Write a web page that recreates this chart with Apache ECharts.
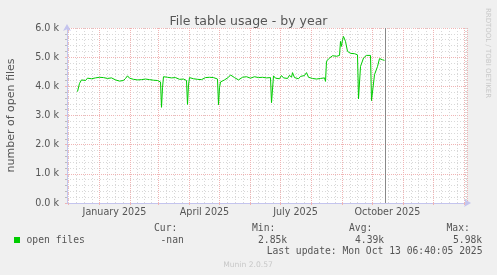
<!DOCTYPE html>
<html>
<head>
<meta charset="utf-8">
<script src="https://cdn.jsdelivr.net/npm/echarts@6/dist/echarts.min.js"></script>
<style>html,body{margin:0;padding:0;background:#f0f0f0;}#c{width:497px;height:275px;}</style>
</head>
<body>
<div id="c"></div>
<script>
// ---- data (values in thousands of open files) ----
const dates = [
'2024-12-10','2024-12-12','2024-12-14','2024-12-16','2024-12-18','2024-12-20','2024-12-22','2024-12-24','2024-12-26','2024-12-28','2024-12-30',
'2025-01-01','2025-01-03','2025-01-05','2025-01-07','2025-01-09','2025-01-11','2025-01-13','2025-01-15','2025-01-17','2025-01-19','2025-01-21','2025-01-23','2025-01-25','2025-01-27','2025-01-29','2025-01-31',
'2025-02-02','2025-02-04','2025-02-06','2025-02-08','2025-02-10','2025-02-12','2025-02-14','2025-02-16','2025-02-18','2025-02-20','2025-02-22','2025-02-24','2025-02-26','2025-02-28',
'2025-03-02','2025-03-03','2025-03-04','2025-03-05','2025-03-06','2025-03-08','2025-03-10','2025-03-12','2025-03-14','2025-03-16','2025-03-18','2025-03-20','2025-03-22','2025-03-24','2025-03-26','2025-03-28','2025-03-29','2025-03-30','2025-03-31',
'2025-04-01','2025-04-03','2025-04-05','2025-04-07','2025-04-09','2025-04-11','2025-04-13','2025-04-15','2025-04-17','2025-04-19','2025-04-21','2025-04-23','2025-04-25','2025-04-27','2025-04-29','2025-04-30',
'2025-05-01','2025-05-02','2025-05-04','2025-05-06','2025-05-08','2025-05-10','2025-05-12','2025-05-14','2025-05-16','2025-05-18','2025-05-20','2025-05-22','2025-05-24','2025-05-26','2025-05-28','2025-05-30',
'2025-06-01','2025-06-03','2025-06-05','2025-06-07','2025-06-09','2025-06-11','2025-06-13','2025-06-15','2025-06-17','2025-06-19','2025-06-21','2025-06-22','2025-06-24','2025-06-26','2025-06-28','2025-06-30',
'2025-07-02','2025-07-04','2025-07-06','2025-07-08','2025-07-10','2025-07-12','2025-07-13','2025-07-15','2025-07-17','2025-07-19','2025-07-21','2025-07-23','2025-07-25','2025-07-27','2025-07-29','2025-07-31',
'2025-08-02','2025-08-04','2025-08-06','2025-08-08','2025-08-10','2025-08-12','2025-08-14','2025-08-15','2025-08-16','2025-08-18','2025-08-20','2025-08-22','2025-08-24','2025-08-26','2025-08-28','2025-08-29','2025-08-30','2025-08-31',
'2025-09-01','2025-09-02','2025-09-03','2025-09-04','2025-09-06','2025-09-07','2025-09-09','2025-09-11','2025-09-13','2025-09-15','2025-09-16','2025-09-17','2025-09-19','2025-09-22','2025-09-25','2025-09-27','2025-09-29','2025-09-30',
'2025-10-03','2025-10-06','2025-10-08','2025-10-11','2025-10-13'
];
const openFiles = [
3.82,4.10,4.22,4.27,4.20,4.28,4.23,4.26,4.21,4.29,4.24,
4.31,4.28,4.30,4.25,4.27,4.24,4.29,4.26,4.22,4.25,4.18,4.12,4.20,4.27,4.36,4.28,
4.30,4.24,4.27,4.22,4.26,4.23,4.28,4.25,4.20,4.23,4.18,4.21,4.17,4.20,
4.19,4.15,3.28,3.95,4.33,4.32,4.31,4.27,4.29,4.25,4.30,4.26,4.24,4.28,4.25,4.22,4.20,3.38,4.05,
4.30,4.33,4.26,4.30,4.24,4.28,4.23,4.27,4.30,4.27,4.31,4.28,4.30,4.27,4.25,3.37,
3.95,4.15,4.20,4.22,4.26,4.31,4.39,4.33,4.30,4.27,4.22,4.24,4.31,4.26,4.33,4.38,
4.28,4.25,4.33,4.27,4.30,4.36,4.31,4.35,4.29,4.33,4.30,3.44,4.36,4.28,4.34,4.26,
4.37,4.29,4.35,4.27,4.38,4.31,4.47,4.30,4.36,4.26,4.34,4.28,4.37,4.47,4.31,4.35,
4.27,4.33,4.25,4.31,4.27,4.24,4.29,4.17,4.86,4.94,4.99,5.05,5.03,5.03,5.00,5.06,5.54,5.37,
5.60,5.71,5.66,5.54,5.20,5.14,5.13,5.13,5.12,5.10,5.08,3.57,4.68,4.97,5.06,5.07,5.06,3.51,
4.40,4.68,4.95,4.91,4.89
];
const xStart = '2024-11-29 12:00';
const xEnd = '2026-01-03 12:00';
const nowMark = '2025-10-13 06:40';
const labelMonths = [0, 3, 6, 9];           // Jan, Apr, Jul, Oct
const labelTexts = ['January 2025', 'April 2025', 'July 2025', 'October 2025'];
const yMin = 0, yMax = 6, yStep = 1;
const legendName = 'open files';
const stats = { cur: '-nan', min: '2.85k', avg: '4.39k', max: '5.98k' };
const lastUpdate = 'Last update: Mon Oct 13 06:40:05 2025';

const chart = echarts.init(document.getElementById('c'), null, { renderer: 'canvas' });
const FONT = 'DejaVu Sans';
const TXT = '#555';
const MAJOR = '#f0b4b4';
const MINOR = '#d8d8d8';

const option = {
  animation: false,
  backgroundColor: '#f0f0f0',
  title: {
    text: 'File table usage - by year',
    left: 'center',
    top: 10,
    textStyle: { fontFamily: FONT, fontSize: 12.5, fontWeight: 'normal', color: TXT }
  },
  grid: { left: 67, right: 30, top: 28, bottom: 72, show: true, backgroundColor: '#ffffff', borderWidth: 0 },
  xAxis: {
    type: 'time',
    min: xStart, max: xEnd,
    minInterval: 27 * 86400000, maxInterval: 32 * 86400000,
    axisLine: { show: true, lineStyle: { color: '#c4c4ee', width: 1 }, symbol: ['none', 'arrow'], symbolSize: [6, 7], symbolOffset: [0, 4] },
    axisTick: { show: true, length: 2, lineStyle: { color: MAJOR } },
    minorTick: { show: false, splitNumber: 4 },
    splitLine: { show: true, lineStyle: { color: MAJOR, type: [1, 1], width: 1 } },
    minorSplitLine: { show: true, lineStyle: { color: MINOR, type: [1, 2], width: 1 } },
    axisLabel: {
      interval: 0, showMinLabel: false, showMaxLabel: false, hideOverlap: false,
      margin: 4, padding: [0, 0, 0, 30], align: 'center',
      fontFamily: FONT, fontSize: 9.6, color: TXT,
      formatter: function (v) {
        const d = new Date(v);
        if (d.getDate() !== 1) return '';
        const i = labelMonths.indexOf(d.getMonth());
        if (i < 0 || d.getFullYear() !== 2025) return '';
        return labelTexts[i];
      }
    }
  },
  yAxis: {
    type: 'value', min: yMin, max: yMax, interval: yStep,
    axisLine: { show: true, lineStyle: { color: '#c4c4ee', width: 1 }, symbol: ['none', 'arrow'], symbolSize: [6, 7], symbolOffset: [0, 4] },
    axisTick: { show: true, length: 2, lineStyle: { color: MAJOR } },
    minorTick: { show: true, splitNumber: 5, length: 2, lineStyle: { color: '#bbbbbb' } },
    splitLine: { show: true, lineStyle: { color: MAJOR, type: [1, 1], width: 1 } },
    minorSplitLine: { show: true, lineStyle: { color: MINOR, type: [1, 2], width: 1 } },
    axisLabel: {
      margin: 8, fontFamily: FONT, fontSize: 9.6, color: TXT,
      formatter: v => v.toFixed(1) + ' k'
    }
  },
  series: [{
    name: legendName,
    type: 'line',
    data: dates.map((d, i) => [d, openFiles[i]]),
    showSymbol: false,
    lineStyle: { color: '#00cc00', width: 1 },
    itemStyle: { color: '#00cc00' },
    markLine: {
      silent: true, symbol: 'none', label: { show: false },
      lineStyle: { color: '#888888', width: 1, type: 'solid' },
      data: [{ xAxis: nowMark }]
    }
  }],
  graphic: [
    { type: 'text', x: 11, y: 115.5, rotation: Math.PI / 2,
      style: { text: 'number of open files', fill: TXT, font: '11px "DejaVu Sans"', align: 'center', verticalAlign: 'middle' } },
    { type: 'text', x: 488, y: 53, rotation: -Math.PI / 2,
      style: { text: 'RRDTOOL / TOBI OETIKER', fill: '#c8c8c8', font: '7px "DejaVu Sans"', align: 'center', verticalAlign: 'middle' } },
    { type: 'rect', shape: { x: 14, y: 237, width: 6, height: 6 }, style: { fill: '#00cc00' } },
    { type: 'text', x: 26.5, y: 240, style: { text: legendName, fill: TXT, font: '9.7px "DejaVu Sans Mono"', verticalAlign: 'middle' } },
    { type: 'text', x: 154, y: 228, style: { text: 'Cur:', fill: TXT, font: '9.7px "DejaVu Sans Mono"', verticalAlign: 'middle' } },
    { type: 'text', x: 160.5, y: 240, style: { text: stats.cur, fill: TXT, font: '9.7px "DejaVu Sans Mono"', verticalAlign: 'middle' } },
    { type: 'text', x: 252, y: 228, style: { text: 'Min:', fill: TXT, font: '9.7px "DejaVu Sans Mono"', verticalAlign: 'middle' } },
    { type: 'text', x: 258, y: 240, style: { text: stats.min, fill: TXT, font: '9.7px "DejaVu Sans Mono"', verticalAlign: 'middle' } },
    { type: 'text', x: 349, y: 228, style: { text: 'Avg:', fill: TXT, font: '9.7px "DejaVu Sans Mono"', verticalAlign: 'middle' } },
    { type: 'text', x: 355, y: 240, style: { text: stats.avg, fill: TXT, font: '9.7px "DejaVu Sans Mono"', verticalAlign: 'middle' } },
    { type: 'text', x: 446.5, y: 228, style: { text: 'Max:', fill: TXT, font: '9.7px "DejaVu Sans Mono"', verticalAlign: 'middle' } },
    { type: 'text', x: 453, y: 240, style: { text: stats.max, fill: TXT, font: '9.7px "DejaVu Sans Mono"', verticalAlign: 'middle' } },
    { type: 'text', x: 482.5, y: 251, style: { text: lastUpdate, fill: TXT, font: '9.7px "DejaVu Sans Mono"', align: 'right', verticalAlign: 'middle' } },
    { type: 'text', x: 248, y: 265, style: { text: 'Munin 2.0.57', fill: '#c8c8c8', font: '7.6px "DejaVu Sans"', align: 'center', verticalAlign: 'middle' } }
  ]
};
chart.setOption(option);
</script>
</body>
</html>
